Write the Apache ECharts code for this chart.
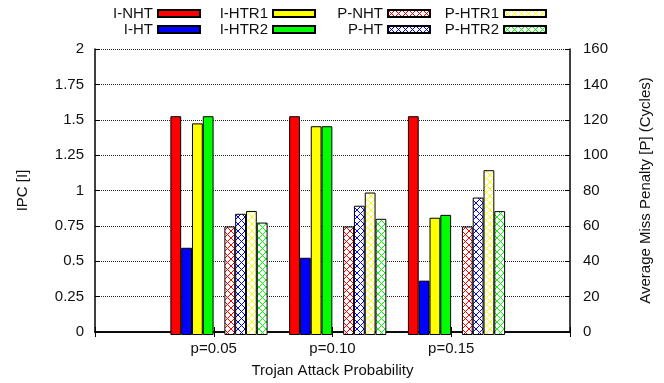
<!DOCTYPE html>
<html>
<head>
<meta charset="utf-8">
<script src="https://cdn.jsdelivr.net/npm/echarts@6/dist/echarts.min.js"></script>
<style>
  html, body { margin: 0; padding: 0; background: #fff; }
  #chart { width: 664px; height: 383px; }
</style>
</head>
<body>
<div id="chart"></div>
<script>
// data
var categories = ["p=0.05", "p=0.10", "p=0.15"];
var ipcTicks = [0, 2, 0.25];          // min, max, step  (IPC [I])
var penaltyTicks = [0, 160, 20];      // min, max, step  (cycles [P])

// IPC series
var iNHT  = [1.53, 1.53, 1.53];
var iHT   = [0.61, 0.54, 0.38];
var iHTR1 = [1.48, 1.46, 0.82];
var iHTR2 = [1.53, 1.46, 0.84];
// miss penalty series (cycles)
var pNHT  = [60.7, 60.7, 60.7];
var pHT   = [67.8, 72.3, 76.9];
var pHTR1 = [69.4, 79.7, 92.2];
var pHTR2 = [62.9, 65.0, 69.3];

var RED = "#ff0000", BLUE = "#0000ff", YEL = "#ffff00", GRN = "#00ff00";
var FONT = "Liberation Sans, Arial, sans-serif";

// cross-hatch fill like gnuplot pattern (pixel crisp diagonals)
function hatch(col) {
  var s = 7;
  var c = document.createElement("canvas");
  c.width = s; c.height = s;
  var g = c.getContext("2d");
  g.fillStyle = "#fff";
  g.fillRect(0, 0, s, s);
  g.fillStyle = col;
  for (var i = 0; i < s; i++) {
    g.fillRect(i, i, 1, 1);
    g.fillRect(s - 1 - i, i, 1, 1);
  }
  return { image: c, repeat: "repeat" };
}

var chart = echarts.init(document.getElementById("chart"));

function barSeries(name, data, fill, yIdx) {
  return {
    name: name,
    type: "bar",
    xAxisIndex: 2,
    yAxisIndex: yIdx,
    data: data,
    barWidth: 10.8,
    barGap: "0%",
    itemStyle: { color: fill, borderColor: "#000", borderWidth: 1 },
    emphasis: { disabled: true },
    animation: false
  };
}

var series = [
  barSeries("I-NHT", iNHT, RED, 2),
  barSeries("I-HT", iHT, BLUE, 2),
  barSeries("I-HTR1", iHTR1, YEL, 2),
  barSeries("I-HTR2", iHTR2, GRN, 2),
  // empty slot between the two groups
  { name: "gap", type: "bar", xAxisIndex: 2, yAxisIndex: 2, data: [], barWidth: 10.8, barGap: "0%" },
  barSeries("P-NHT", pNHT, hatch(RED), 3),
  barSeries("P-HT", pHT, hatch(BLUE), 3),
  barSeries("P-HTR1", pHTR1, hatch(YEL), 3),
  barSeries("P-HTR2", pHTR2, hatch(GRN), 3)
];

// one legend per entry so the layout is column-wise like gnuplot's key
var keyPlaces = [
  ["I-NHT", 463, 6], ["I-HT", 463, 22],
  ["I-HTR1", 348, 6], ["I-HTR2", 348, 22],
  ["P-NHT", 233, 6], ["P-HT", 233, 22],
  ["P-HTR1", 117, 6], ["P-HTR2", 117, 22]
];
var legends = keyPlaces.map(function (k) {
  return {
    data: [{ name: k[0], icon: "rect" }],
    right: k[1],
    top: k[2],
    padding: 0,
    align: "right",
    itemWidth: 42,
    itemHeight: 7,
    selectedMode: false,
    textStyle: { fontSize: 15, color: "#111", fontFamily: FONT }
  };
});

var axisLine = { show: true, lineStyle: { color: "#000", width: 1.5 } };
var labelStyle = { fontSize: 15, color: "#111", fontFamily: FONT };
var frameCats = [""].concat(categories, [""]);

chart.setOption({
  animation: false,
  legend: legends,
  grid: [
    { left: 95, right: 94, top: 49, bottom: 48 },
    { left: 159.6, right: 148.1, top: 49, bottom: 48 }
  ],
  xAxis: [
    {
      gridIndex: 0,
      type: "category",
      data: frameCats,
      boundaryGap: false,
      axisLine: axisLine,
      axisTick: { show: true, inside: true, length: 5, interval: 0, lineStyle: { color: "#000" } },
      axisLabel: Object.assign({ interval: 0, margin: 9 }, labelStyle),
      name: "Trojan Attack Probability",
      nameLocation: "middle",
      nameGap: 31,
      nameTextStyle: labelStyle
    },
    {
      gridIndex: 0,
      type: "category",
      position: "top",
      data: frameCats,
      boundaryGap: false,
      axisLine: axisLine,
      axisTick: { show: true, inside: true, length: 5, interval: 0, lineStyle: { color: "#000" } },
      axisLabel: { show: false }
    },
    { gridIndex: 1, type: "category", data: categories, show: false }
  ],
  yAxis: [
    {
      gridIndex: 0,
      type: "value",
      min: ipcTicks[0], max: ipcTicks[1], interval: ipcTicks[2],
      axisLine: axisLine,
      axisTick: { show: true, inside: true, length: 5, lineStyle: { color: "#000" } },
      axisLabel: Object.assign({ margin: 11 }, labelStyle),
      splitLine: { show: true, lineStyle: { color: "#222", width: 1, type: [1, 1] } },
      name: "IPC [I]",
      nameLocation: "middle",
      nameGap: 65,
      nameTextStyle: labelStyle
    },
    {
      gridIndex: 0,
      type: "value",
      position: "right",
      min: penaltyTicks[0], max: penaltyTicks[1], interval: penaltyTicks[2],
      axisLine: axisLine,
      axisTick: { show: true, inside: true, length: 5, lineStyle: { color: "#000" } },
      axisLabel: Object.assign({ margin: 13 }, labelStyle),
      splitLine: { show: false },
      name: "Average Miss Penalty [P] (Cycles)",
      nameLocation: "middle",
      nameGap: 68,
      nameTextStyle: labelStyle
    },
    { gridIndex: 1, type: "value", min: ipcTicks[0], max: ipcTicks[1], show: false, splitLine: { show: false } },
    { gridIndex: 1, type: "value", min: penaltyTicks[0], max: penaltyTicks[1], show: false, splitLine: { show: false } }
  ],
  series: series
});
</script>
</body>
</html>
